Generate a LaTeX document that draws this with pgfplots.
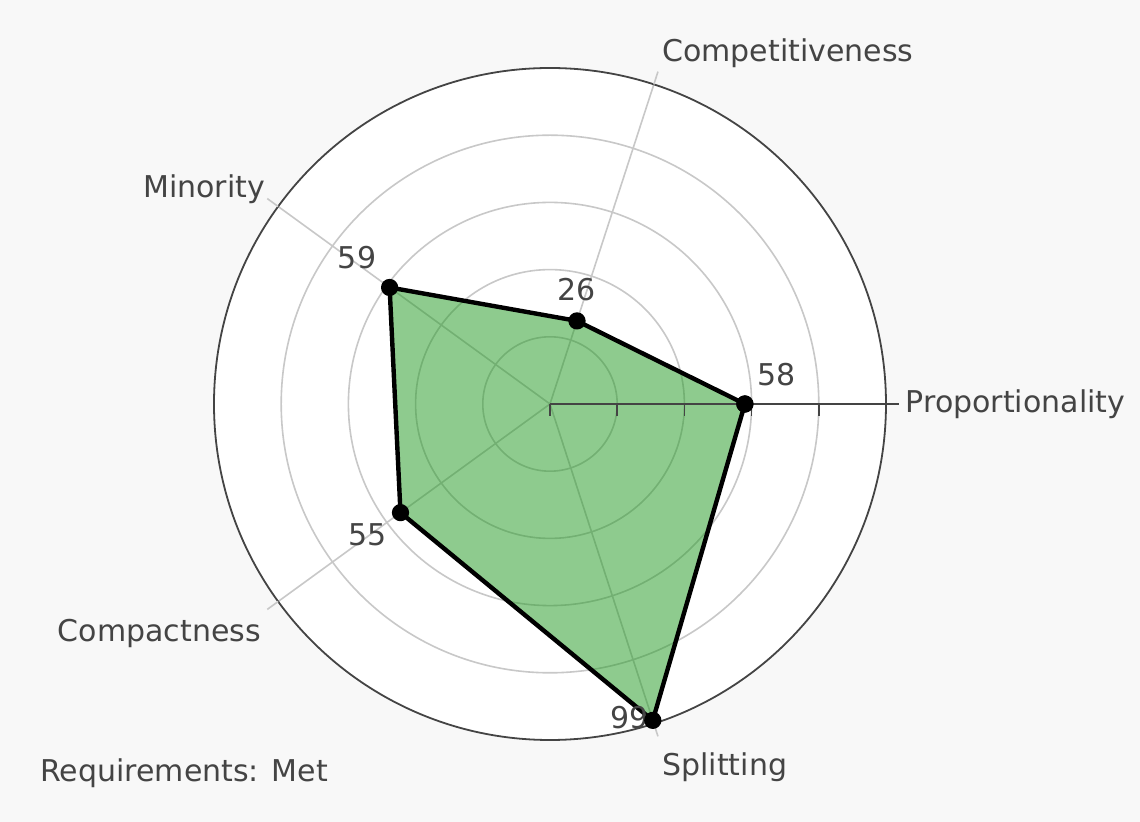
\documentclass[border=0pt]{standalone}
\usepackage{pgfplots}
\pgfplotsset{compat=1.18}
\usepgfplotslibrary{polar}
\usepackage{fontspec}
\setmainfont{DejaVu Sans}
\definecolor{txt}{HTML}{444444}
\definecolor{bg}{HTML}{F8F8F8}
\definecolor{gridc}{HTML}{C8C8C8}
\definecolor{axc}{HTML}{444444}
\definecolor{fillg}{RGB}{31,153,31}
\tikzset{lbl/.style={font=\fontsize{15}{18}\selectfont, text=txt}}

\begin{document}
\begin{tikzpicture}[x=1pt,y=1pt]
\fill[bg] (-275,-209) rectangle (295,202);
\begin{polaraxis}[
    at={(0,0)}, anchor=center,
    width=336pt, height=336pt, scale only axis,
    xmin=0, xmax=360, ymin=0, ymax=100,
    xtick={0,72,144,216,288}, xticklabels={},
    ytick={20,40,60,80}, yticklabels={},
    xmajorgrids, ymajorgrids,
    grid style={gridc, line width=0.8pt},
    axis line style={axc, line width=0.9pt},
    major tick length=0pt,
    clip=false,
    axis background/.style={fill=white},
]
% spoke extensions past the outer circle
\addplot[gridc, line width=0.8pt, forget plot] coordinates {(72,100) (72,104)};
\addplot[gridc, line width=0.8pt, forget plot] coordinates {(144,100) (144,104)};
\addplot[gridc, line width=0.8pt, forget plot] coordinates {(216,100) (216,104)};
\addplot[gridc, line width=0.8pt, forget plot] coordinates {(288,100) (288,104)};
% data
\addplot[draw=black, line width=2.2pt, line join=round,
  fill=fillg, fill opacity=0.5,
  mark=*, mark size=3.2pt, mark options={fill=black, fill opacity=1}]
  coordinates {(0,58) (72,26) (144,59) (216,55) (288,99) (0,58)};
% radial axis
\addplot[axc, line width=0.9pt, forget plot] coordinates {(0,0) (0,58)};
\addplot[axc, line width=0.9pt, forget plot] coordinates {(0,58) (0,104)};
\draw[axc, line width=0.8pt] (axis cs:0,0) -- ++(0pt,-6pt);
\draw[axc, line width=0.8pt] (axis cs:0,20) -- ++(0pt,-6pt);
\draw[axc, line width=0.8pt] (axis cs:0,40) -- ++(0pt,-6pt);
\draw[axc, line width=0.8pt] (axis cs:0,60) -- ++(0pt,-6pt);
\draw[axc, line width=0.8pt] (axis cs:0,80) -- ++(0pt,-6pt);
% value labels
\node[lbl] at (axis cs:7.5,68.1) {58};
\node[lbl] at (axis cs:76.7,34.9) {26};
\node[lbl] at (axis cs:142.9,72.0) {59};
\node[lbl] at (axis cs:215.7,66.7) {55};
\node[lbl] at (axis cs:284.3,96.4) {99};
% category labels
\node[lbl, anchor=west, inner sep=3pt] at (axis cs:0,104) {Proportionality};
\node[lbl, anchor=south west, inner sep=2pt] at (axis cs:72,104) {Competitiveness};
\node[lbl, anchor=south east, inner sep=1pt, yshift=-4pt] at (axis cs:144,104) {Minority};
\node[lbl, anchor=north east, inner sep=3pt, yshift=-1.5pt] at (axis cs:216,104) {Compactness};
\node[lbl, anchor=north west, inner sep=2pt, yshift=-6pt] at (axis cs:288,104) {Splitting};
\end{polaraxis}
\node[lbl, anchor=west, inner sep=0pt] at (-255,-184.5) {Requirements: Met};
\pgfresetboundingbox
\path (-275,-209) rectangle (295,202);
\end{tikzpicture}
\end{document}
